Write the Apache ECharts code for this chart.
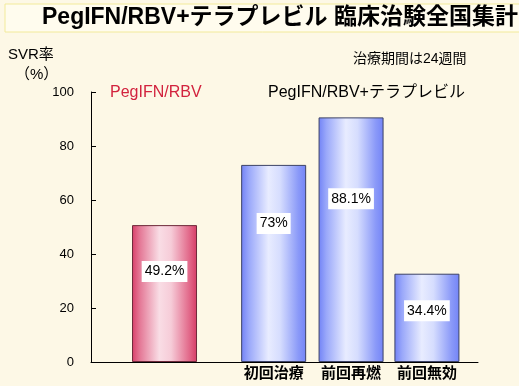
<!DOCTYPE html>
<html>
<head>
<meta charset="utf-8">
<script src="https://cdn.jsdelivr.net/npm/echarts@6/dist/echarts.min.js"></script>
<style>
html,body{margin:0;padding:0;background:#FDF8E6;}
#c{width:519px;height:386px;}
</style>
</head>
<body>
<div id="c"></div>
<script>
// Data
var categories = ['PegIFN/RBV', '初回治療', '前回再燃', '前回無効'];
var slotPositions = [0.95, 2.36, 3.36, 4.34];
var barValues = [50.7, 73.0, 90.6, 32.7];
var labelTexts = ['49.2%', '73%', '88.1%', '34.4%'];
var groups = ['red', 'blue', 'blue', 'blue'];
var yTicks = [0, 20, 40, 60, 80, 100];
var labelOffsets = [-22, -40, -41, -7];

var FONT = '"Liberation Sans", Arial, "Noto Sans CJK JP", sans-serif';

var redGrad = new echarts.graphic.LinearGradient(0, 0, 1, 0, [
  {offset: 0, color: '#D8406A'},
  {offset: 0.12, color: '#E47896'},
  {offset: 0.42, color: '#F9DDE5'},
  {offset: 0.6, color: '#F6CCD8'},
  {offset: 0.88, color: '#E2698A'},
  {offset: 1, color: '#D53C66'}
]);
var blueGrad = new echarts.graphic.LinearGradient(0, 0, 1, 0, [
  {offset: 0, color: '#7182F6'},
  {offset: 0.12, color: '#9AA8FA'},
  {offset: 0.42, color: '#E8ECFF'},
  {offset: 0.6, color: '#D6DDFE'},
  {offset: 0.88, color: '#8A99F8'},
  {offset: 1, color: '#7384F7'}
]);

var barData = barValues.map(function (v, i) {
  var red = groups[i] === 'red';
  return {
    value: [slotPositions[i], v],
    itemStyle: {
      color: red ? redGrad : blueGrad,
      borderColor: red ? '#6E2A3A' : '#3C4266',
      borderWidth: 1
    },
    label: {
      show: true,
      position: 'inside',
      offset: [0, labelOffsets[i]],
      formatter: labelTexts[i],
      color: '#000',
      fontSize: 14,
      fontFamily: FONT,
      backgroundColor: '#FFFFFF',
      padding: [4, 3, 3, 3]
    }
  };
});

var chart = echarts.init(document.getElementById('c'), null, {renderer: 'canvas'});
chart.setOption({
  backgroundColor: '#FDF8E6',
  animation: false,
  graphic: [
    {type: 'rect', shape: {x: 5, y: 4, width: 520, height: 28},
     style: {fill: '#FFFCEE', stroke: '#F2EA9A', lineWidth: 1}, z: 0},
    {type: 'text', left: 42, top: 6, style: {text: 'PegIFN/RBV+テラプレビル 臨床治験全国集計',
      font: 'bold 23px ' + FONT, fill: '#000'}},
    {type: 'text', left: 8, top: 47, style: {text: 'SVR率', font: '15px ' + FONT, fill: '#000'}},
    {type: 'text', left: 15, top: 67, style: {text: '（%）', font: '15px ' + FONT, fill: '#000'}},
    {type: 'text', left: 353, top: 52, style: {text: '治療期間は24週間', font: '14px ' + FONT, fill: '#000'}},
    {type: 'text', left: 110, top: 85, style: {text: 'PegIFN/RBV', font: '16px ' + FONT, fill: '#D2233E'}},
    {type: 'text', left: 268, top: 85, style: {text: 'PegIFN/RBV+テラプレビル', font: '16px ' + FONT, fill: '#000'}}
  ],
  grid: {left: 91, right: 41, top: 92, bottom: 24},
  xAxis: {
    type: 'value', min: 0, max: 5,
    splitLine: {show: false},
    axisLine: {show: true, lineStyle: {color: '#000', width: 1}},
    axisTick: {show: false},
    axisLabel: {
      customValues: slotPositions.slice(1),
      formatter: function (v) {
        var idx = slotPositions.indexOf(v);
        return idx >= 0 ? categories[idx] : '';
      },
      color: '#000', fontSize: 15, fontWeight: 'bold', fontFamily: FONT, margin: 4
    }
  },
  yAxis: {
    type: 'value', min: 0, max: 100, interval: 20,
    splitLine: {show: false},
    axisLine: {show: true, lineStyle: {color: '#000', width: 1}},
    axisTick: {show: true, inside: true, length: 5, lineStyle: {color: '#000'}},
    axisLabel: {
      color: '#000', fontSize: 13, fontFamily: FONT, margin: 17,
      formatter: function (v) { return yTicks.indexOf(v) >= 0 ? String(v) : ''; }
    }
  },
  series: [{
    type: 'bar',
    barWidth: 65,
    data: barData
  }]
});
</script>
</body>
</html>
